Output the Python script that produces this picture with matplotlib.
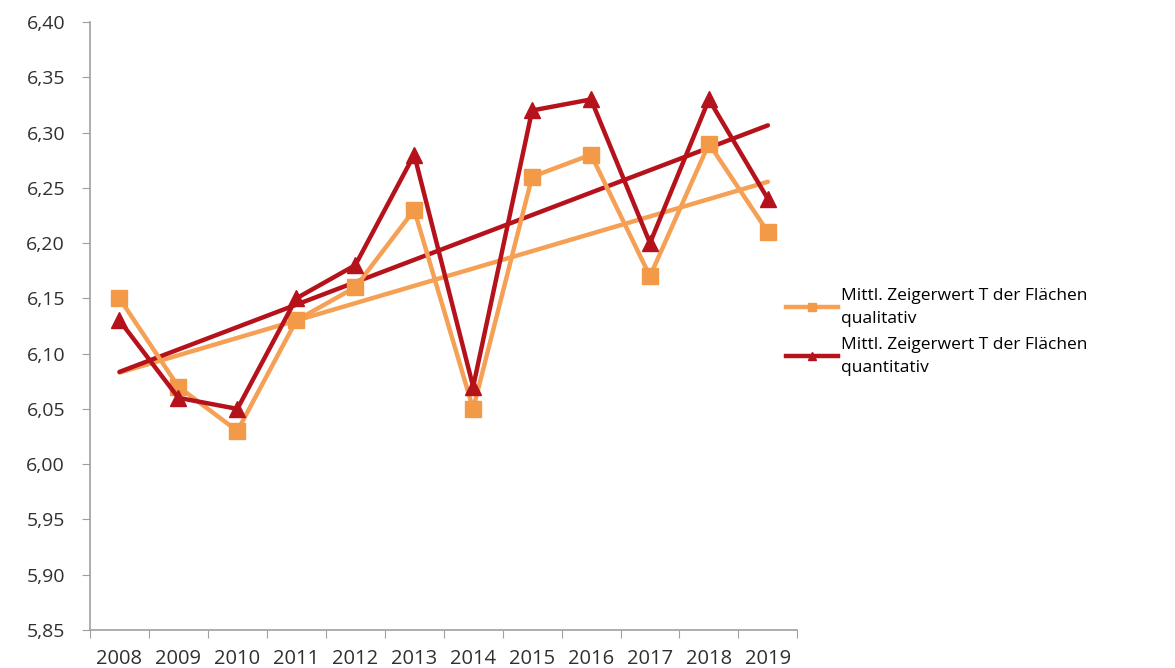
import numpy as np
import matplotlib
matplotlib.use('Agg')
import matplotlib.pyplot as plt
from matplotlib.ticker import FuncFormatter, MultipleLocator

years = ['2008', '2009', '2010', '2011', '2012', '2013', '2014', '2015', '2016', '2017', '2018', '2019']
qualitativ = [6.15, 6.07, 6.03, 6.13, 6.16, 6.23, 6.05, 6.26, 6.28, 6.17, 6.29, 6.21]
quantitativ = [6.13, 6.06, 6.05, 6.15, 6.18, 6.28, 6.07, 6.32, 6.33, 6.20, 6.33, 6.24]
label_qual = 'Mittl. Zeigerwert T der Flächen\nqualitativ'
label_quant = 'Mittl. Zeigerwert T der Flächen\nquantitativ'

ORANGE = '#F5A055'
RED = '#B5121B'

plt.rcParams['font.family'] = ['Open Sans', 'DejaVu Sans']

fig = plt.figure(figsize=(11.75, 6.68), dpi=100)
ax = fig.add_axes([0.0766, 0.057, 0.602, 0.910])

x = np.arange(len(years))

# linear trend lines (as in the spreadsheet)
for vals, col in [(qualitativ, ORANGE), (quantitativ, RED)]:
    k, d = np.polyfit(x, vals, 1)
    ax.plot(x, k * x + d, color=col, lw=3.2, solid_capstyle='round', zorder=2)

ax.plot(x, qualitativ, color=ORANGE, lw=3.2, marker='s', ms=11,
        mfc='#F39A48', mec='#F39A48', label=label_qual, zorder=3)
ax.plot(x, quantitativ, color=RED, lw=3.2, marker='^', ms=12,
        mfc=RED, mec=RED, label=label_quant, zorder=4)

ax.set_xlim(-0.5, len(years) - 0.5)
ax.set_ylim(5.85, 6.40)
ax.yaxis.set_major_locator(MultipleLocator(0.05))
ax.yaxis.set_major_formatter(FuncFormatter(lambda v, p: f'{v:.2f}'.replace('.', ',')))

ax.set_xticks(np.arange(len(years) + 1) - 0.5)
ax.set_xticklabels([])
ax.set_xticks(x, minor=True)
ax.set_xticklabels(years, minor=True)
ax.tick_params(axis='x', which='minor', length=0, pad=14, labelsize=14.5, labelcolor='#303030')
ax.tick_params(axis='x', which='major', length=6, color='#A0A0A0')
ax.tick_params(axis='y', length=6, color='#A0A0A0', labelsize=14, labelcolor='#303030', pad=12)

for s in ['top', 'right']:
    ax.spines[s].set_visible(False)
for s in ['left', 'bottom']:
    ax.spines[s].set_color('#A0A0A0')
    ax.spines[s].set_linewidth(1.2)

leg = ax.legend(loc='center left', bbox_to_anchor=(0.962, 0.49), frameon=False,
                fontsize=12.5, handlelength=3.0, handletextpad=0.15, labelspacing=0.6,
                markerscale=0.5)
for t in leg.get_texts():
    t.set_linespacing(1.55)

fig.savefig('out.png', dpi=100)
